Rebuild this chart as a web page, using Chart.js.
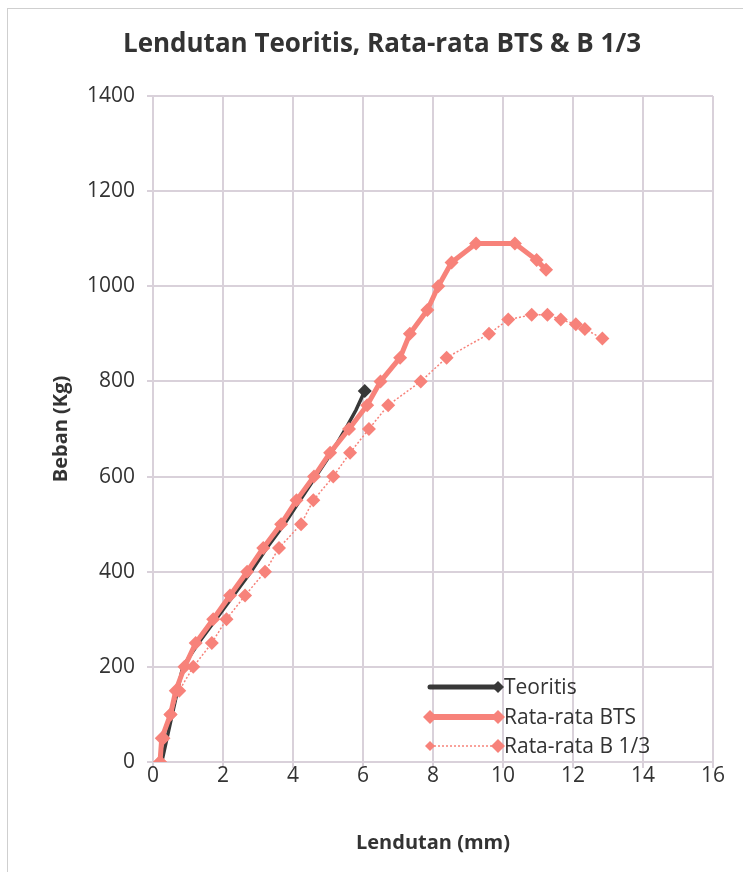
<!DOCTYPE html>
<html>
<head>
<meta charset="utf-8">
<script src="https://cdn.jsdelivr.net/npm/chart.js@4.4.1/dist/chart.umd.min.js"></script>
<style>
  html, body { margin: 0; padding: 0; background: #fff; }
  #wadah { width: 743px; height: 872px; }
</style>
</head>
<body>
<div id="wadah"><canvas id="grafik"></canvas></div>
<script>
// data: lendutan (mm) vs beban (Kg)
const lendutanTeoritis = [0.25, 0.4, 0.55, 0.7, 0.85, 1.3, 1.8, 2.3, 2.8, 3.25, 3.75, 4.2, 4.65, 5.1, 5.5, 5.8, 6.05];
const bebanTeoritis = [0, 50, 100, 150, 200, 250, 300, 350, 400, 450, 500, 550, 600, 650, 700, 740, 780];

const lendutanBTS = [0.2, 0.25, 0.5, 0.65, 0.9, 1.22, 1.72, 2.2, 2.69, 3.15, 3.66, 4.1, 4.6, 5.06, 5.6, 6.12, 6.5, 7.06, 7.34, 7.84, 8.15, 8.53, 9.23, 10.34, 10.96, 11.23];
const bebanBTS = [0, 50, 100, 150, 200, 250, 300, 350, 400, 450, 500, 550, 600, 650, 700, 750, 800, 850, 900, 950, 1000, 1050, 1090, 1090, 1055, 1035];

const lendutanB13 = [0.2, 0.3, 0.5, 0.75, 1.15, 1.68, 2.1, 2.63, 3.2, 3.6, 4.23, 4.58, 5.15, 5.63, 6.17, 6.72, 7.65, 8.39, 9.6, 10.15, 10.82, 11.27, 11.65, 12.08, 12.34, 12.84];
const bebanB13 = [0, 50, 100, 150, 200, 250, 300, 350, 400, 450, 500, 550, 600, 650, 700, 750, 800, 850, 900, 930, 940, 940, 930, 920, 910, 890];

const namaSeri = ['Teoritis', 'Rata-rata BTS', 'Rata-rata B 1/3'];

const HITAM = '#383838';
const MERAH = '#f7827a';
const GRID = '#d9d1da';

function gabung(xs, ys) {
  return xs.map((x, i) => ({ x: x, y: ys[i] }));
}

// bingkai luar seperti di Excel
const bingkai = {
  id: 'bingkai',
  beforeDraw(chart) {
    const ctx = chart.ctx;
    ctx.save();
    ctx.fillStyle = '#fff';
    ctx.fillRect(0, 0, chart.width, chart.height);
    ctx.strokeStyle = '#cfcfcf';
    ctx.lineWidth = 1;
    ctx.strokeRect(7.5, 8.5, chart.width + 20, chart.height + 20);
    ctx.restore();
  }
};

function belahKetupat(ctx, x, y, r) {
  ctx.beginPath();
  ctx.moveTo(x, y - r);
  ctx.lineTo(x + r, y);
  ctx.lineTo(x, y + r);
  ctx.lineTo(x - r, y);
  ctx.closePath();
  ctx.fill();
}

// legenda digambar sendiri (garis panjang, penanda di ujung)
const legenda = {
  id: 'legenda',
  afterDraw(chart) {
    const ctx = chart.ctx;
    const x0 = 430, x1 = 498, xt = 504;
    const baris = [687, 717, 746];
    ctx.save();
    ctx.font = '21px "Open Sans"';
    ctx.textBaseline = 'middle';
    ctx.textAlign = 'left';

    // Teoritis
    ctx.strokeStyle = HITAM;
    ctx.lineWidth = 5;
    ctx.lineCap = 'round';
    ctx.beginPath(); ctx.moveTo(x0, baris[0]); ctx.lineTo(x1, baris[0]); ctx.stroke();
    ctx.fillStyle = HITAM;
    belahKetupat(ctx, x1, baris[0], 6);

    // BTS
    ctx.strokeStyle = MERAH;
    ctx.lineWidth = 6;
    ctx.beginPath(); ctx.moveTo(x0, baris[1]); ctx.lineTo(x1, baris[1]); ctx.stroke();
    ctx.fillStyle = MERAH;
    belahKetupat(ctx, x0, baris[1], 7);
    belahKetupat(ctx, x1, baris[1], 7);

    // B 1/3
    ctx.lineWidth = 1.5;
    ctx.setLineDash([2, 2]);
    ctx.lineCap = 'butt';
    ctx.beginPath(); ctx.moveTo(x0, baris[2]); ctx.lineTo(x1, baris[2]); ctx.stroke();
    ctx.setLineDash([]);
    belahKetupat(ctx, x0, baris[2], 5);
    belahKetupat(ctx, x1, baris[2], 7);

    ctx.fillStyle = '#333';
    namaSeri.forEach((n, i) => ctx.fillText(n, xt, baris[i] + 1));
    ctx.restore();
  }
};

const ctx = document.getElementById('grafik').getContext('2d');
const grafik = new Chart(ctx, {
  type: 'scatter',
  data: {
    datasets: [
      {
        label: namaSeri[1],
        data: gabung(lendutanBTS, bebanBTS),
        showLine: true,
        borderColor: MERAH,
        backgroundColor: MERAH,
        borderWidth: 5,
        pointStyle: 'rectRot',
        pointRadius: 7,
        pointBorderWidth: 0,
        order: 1
      },
      {
        label: namaSeri[2],
        data: gabung(lendutanB13, bebanB13),
        showLine: true,
        borderColor: MERAH,
        backgroundColor: MERAH,
        borderWidth: 1.5,
        borderDash: [2, 2],
        pointStyle: 'rectRot',
        pointRadius: 7,
        pointBorderWidth: 0,
        order: 2
      },
      {
        label: namaSeri[0],
        data: gabung(lendutanTeoritis, bebanTeoritis),
        showLine: true,
        borderColor: HITAM,
        backgroundColor: HITAM,
        borderWidth: 3.5,
        pointStyle: 'rectRot',
        pointRadius: c => c.dataIndex === lendutanTeoritis.length - 1 ? 7 : 0,
        pointBorderWidth: 0,
        order: 3
      }
    ]
  },
  options: {
    responsive: true,
    maintainAspectRatio: false,
    animation: false,
    layout: { padding: { left: 51, right: 30, top: 0, bottom: 0 } },
    plugins: {
      legend: { display: false },
      tooltip: { enabled: false },
      title: {
        display: true,
        text: 'Lendutan Teoritis, Rata-rata BTS & B 1/3',
        color: '#333',
        font: { family: 'Open Sans', size: 26, weight: 'bold', lineHeight: 1 },
        padding: { top: 32, bottom: 38 }
      }
    },
    scales: {
      x: {
        type: 'linear',
        min: 0,
        max: 16,
        ticks: { stepSize: 2, color: '#333', font: { family: 'Open Sans', size: 21, lineHeight: 1 }, padding: -2 },
        grid: { color: GRID, lineWidth: 2, tickLength: 6 },
        border: { color: GRID, width: 2 },
        title: {
          display: true,
          text: 'Lendutan (mm)',
          color: '#333',
          font: { family: 'Open Sans', size: 20, weight: 'bold', lineHeight: 1 },
          padding: { top: 0, bottom: 19 }
        },
        afterFit(s) { s.height = 110; }
      },
      y: {
        type: 'linear',
        min: 0,
        max: 1400,
        ticks: { stepSize: 200, color: '#333', font: { family: 'Open Sans', size: 21 }, padding: 12, callback: v => String(v) },
        grid: { color: GRID, lineWidth: 2, tickLength: 6 },
        border: { color: GRID, width: 2 },
        title: {
          display: true,
          text: 'Beban (Kg)',
          color: '#333',
          font: { family: 'Open Sans', size: 20, weight: 'bold', lineHeight: 1 },
          padding: 0
        },
        afterFit(s) { s.width = 102; }
      }
    }
  },
  plugins: [bingkai, legenda]
});
</script>
</body>
</html>
